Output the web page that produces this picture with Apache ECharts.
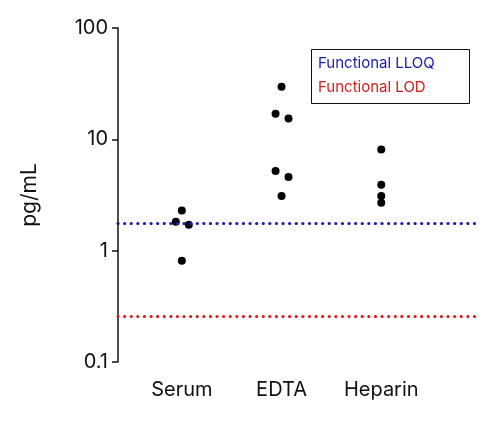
<!DOCTYPE html>
<html><head><meta charset="utf-8">
<script src="https://cdn.jsdelivr.net/npm/echarts@6/dist/echarts.min.js"></script>
<style>html,body{margin:0;padding:0;background:#fff}#c{width:485px;height:426px}</style>
</head><body><div id="c"></div>
<script>
const categories = ["Serum", "EDTA", "Heparin"];
const serumValues = [1.82, 2.29, 1.71, 0.81];
const serumOffsets = [-0.06, 0, 0.07, 0];
const edtaValues = [29.7, 17, 15.4, 5.2, 4.6, 3.1];
const edtaOffsets = [0, -0.06, 0.07, -0.06, 0.07, 0];
const heparinValues = [8.1, 3.9, 3.1, 2.7];
const heparinOffsets = [0, 0, 0, 0];
const lloq = 1.78;
const lod = 0.26;
const yTicks = [0.1, 1, 10, 100];

const groups = [serumValues, edtaValues, heparinValues];
const offs = [serumOffsets, edtaOffsets, heparinOffsets];
const pts = [];
groups.forEach((g, i) => g.forEach((v, j) => pts.push([i + 1 + offs[i][j], v])));

const chart = echarts.init(document.getElementById('c'));
const font = 'Inter, "Noto Sans", sans-serif';
chart.setOption({
  animation: false,
  grid: {left: 118, right: 10, top: 28, bottom: 64},
  xAxis: {
    type: 'value', min: 0.36, max: 3.94,
    axisLine: {show: false}, splitLine: {show: false},
    axisTick: {show: false},
    axisLabel: {customValues: [1, 2, 3], formatter: v => categories[Math.round(v) - 1],
      color: '#111', fontSize: 20, fontFamily: font, margin: 18}
  },
  yAxis: {
    type: 'log', min: 0.1, max: 100, logBase: 10,
    name: 'pg/mL', nameLocation: 'middle', nameGap: 78, nameRotate: 90,
    nameTextStyle: {fontSize: 21, color: '#111', fontFamily: font},
    axisLine: {show: true, lineStyle: {color: '#111', width: 1.5}},
    axisTick: {show: true, length: 6, lineStyle: {color: '#111', width: 1.5}},
    splitLine: {show: false},
    axisLabel: {color: '#111', fontSize: 20, fontFamily: font, margin: 10,
      formatter: v => yTicks.includes(+(+v).toPrecision(3)) ? String(+(+v).toPrecision(3)) : ''}
  },
  series: [{
    type: 'scatter', data: pts, symbolSize: 8, itemStyle: {color: '#000', opacity: 1},
    markLine: {
      silent: true, symbol: 'none', label: {show: false},
      data: [
        {yAxis: lloq, lineStyle: {color: '#1c1ca8', type: [0.1, 6.5], width: 3.2, cap: 'round', opacity: 1}},
        {yAxis: lod, lineStyle: {color: '#d42020', type: [0.1, 6.5], width: 3.2, cap: 'round', opacity: 1}}
      ]
    }
  }],
  graphic: [
    {type: 'rect', left: 311, top: 49, shape: {width: 158, height: 54},
      style: {fill: '#fff', stroke: '#111', lineWidth: 1}},
    {type: 'text', left: 318, top: 56, style: {text: 'Functional LLOQ', fill: '#1c1ca8', font: '15px ' + font}},
    {type: 'text', left: 318, top: 80, style: {text: 'Functional LOD', fill: '#d42020', font: '15px ' + font}}
  ]
});
</script></body></html>
